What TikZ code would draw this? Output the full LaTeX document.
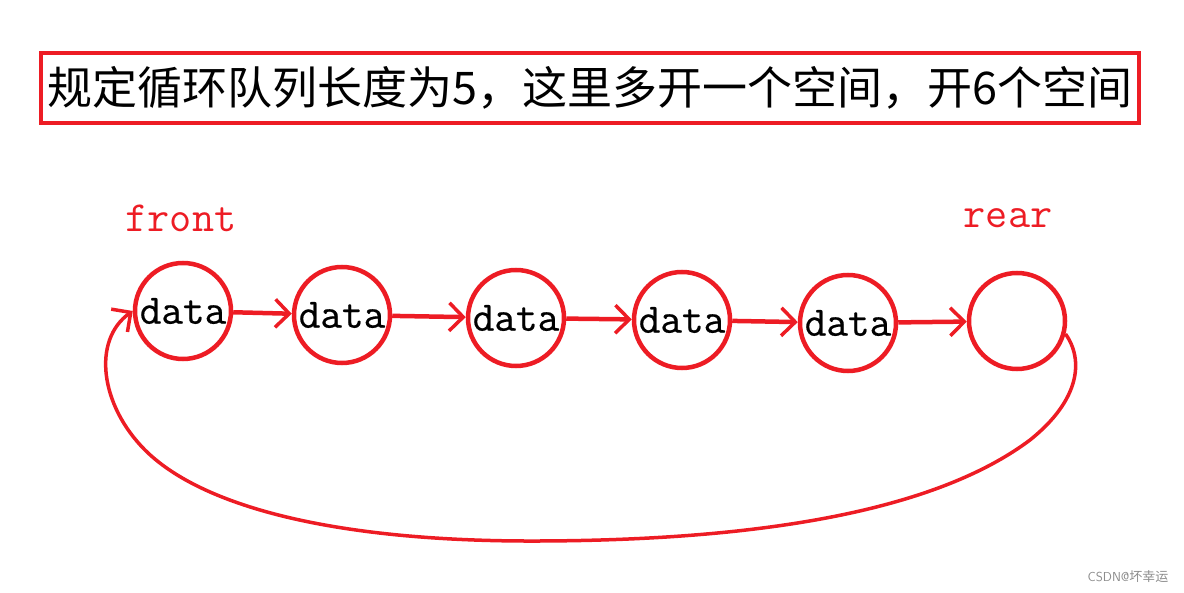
\documentclass[tikz,border=0pt]{standalone}
\usepackage{fontspec}
\newfontfamily\datafont[FakeBold=0.5]{Latin Modern Mono}
\newfontfamily\lblfont{Latin Modern Mono}
\newfontfamily\cjk{Noto Sans CJK SC}
\usetikzlibrary{arrows.meta}
\definecolor{pred}{HTML}{ED1C24}
\begin{document}
\begin{tikzpicture}[x=1pt,y=-1pt,
  cell/.style={circle,draw=pred,line width=4.5pt,minimum size=96pt,inner sep=0pt,font=\datafont\fontsize{42}{42}\selectfont},
  barb/.style={-{Straight Barb[length=14pt,width=28pt,line width=3.5pt]}},
  conn/.style={draw=pred,line width=4.5pt,barb},
  lbl/.style={text=pred,font=\lblfont\fontsize{43}{43}\selectfont}]
\useasboundingbox (0,0) rectangle (1184,593);
\node[draw=pred,line width=4.5pt,minimum width=1098pt,minimum height=70pt,inner sep=0pt,font=\cjk\fontsize{45}{45}\selectfont] (title) at (590,88) {规定循环队列长度为5，这里多开一个空间，开6个空间};
\node[lbl] (front) at (181,218) {front};
\node[lbl] (rear) at (1008,218) {rear};
\node[cell] (c1) at (183,311) {data};
\node[cell] (c2) at (342,315) {data};
\node[cell] (c3) at (516,318) {data};
\node[cell] (c4) at (682,320) {data};
\node[cell] (c5) at (848,323) {data};
\node[cell] (c6) at (1017,321) {};
\draw[conn] (c1) -- (c2);
\draw[conn] (c2) -- (c3);
\draw[conn] (c3) -- (c4);
\draw[conn] (c4) -- (c5);
\draw[conn] (c5) -- (c6);
\draw[draw=pred,line width=3.5pt,barb]
  (c6.-15) .. controls (1084,360) and (1080,400) .. (1030,440)
  .. controls (950,500) and (800,540) .. (540,541)
  .. controls (330,542) and (200,505) .. (145,450)
  .. controls (100,405) and (92,340) .. (c1.west);
\node[text=black!45,font=\sffamily\fontsize{13}{13}\selectfont,anchor=east] (wm) at (1172,577) {CSDN@\cjk 坏幸运};
\end{tikzpicture}
\end{document}
